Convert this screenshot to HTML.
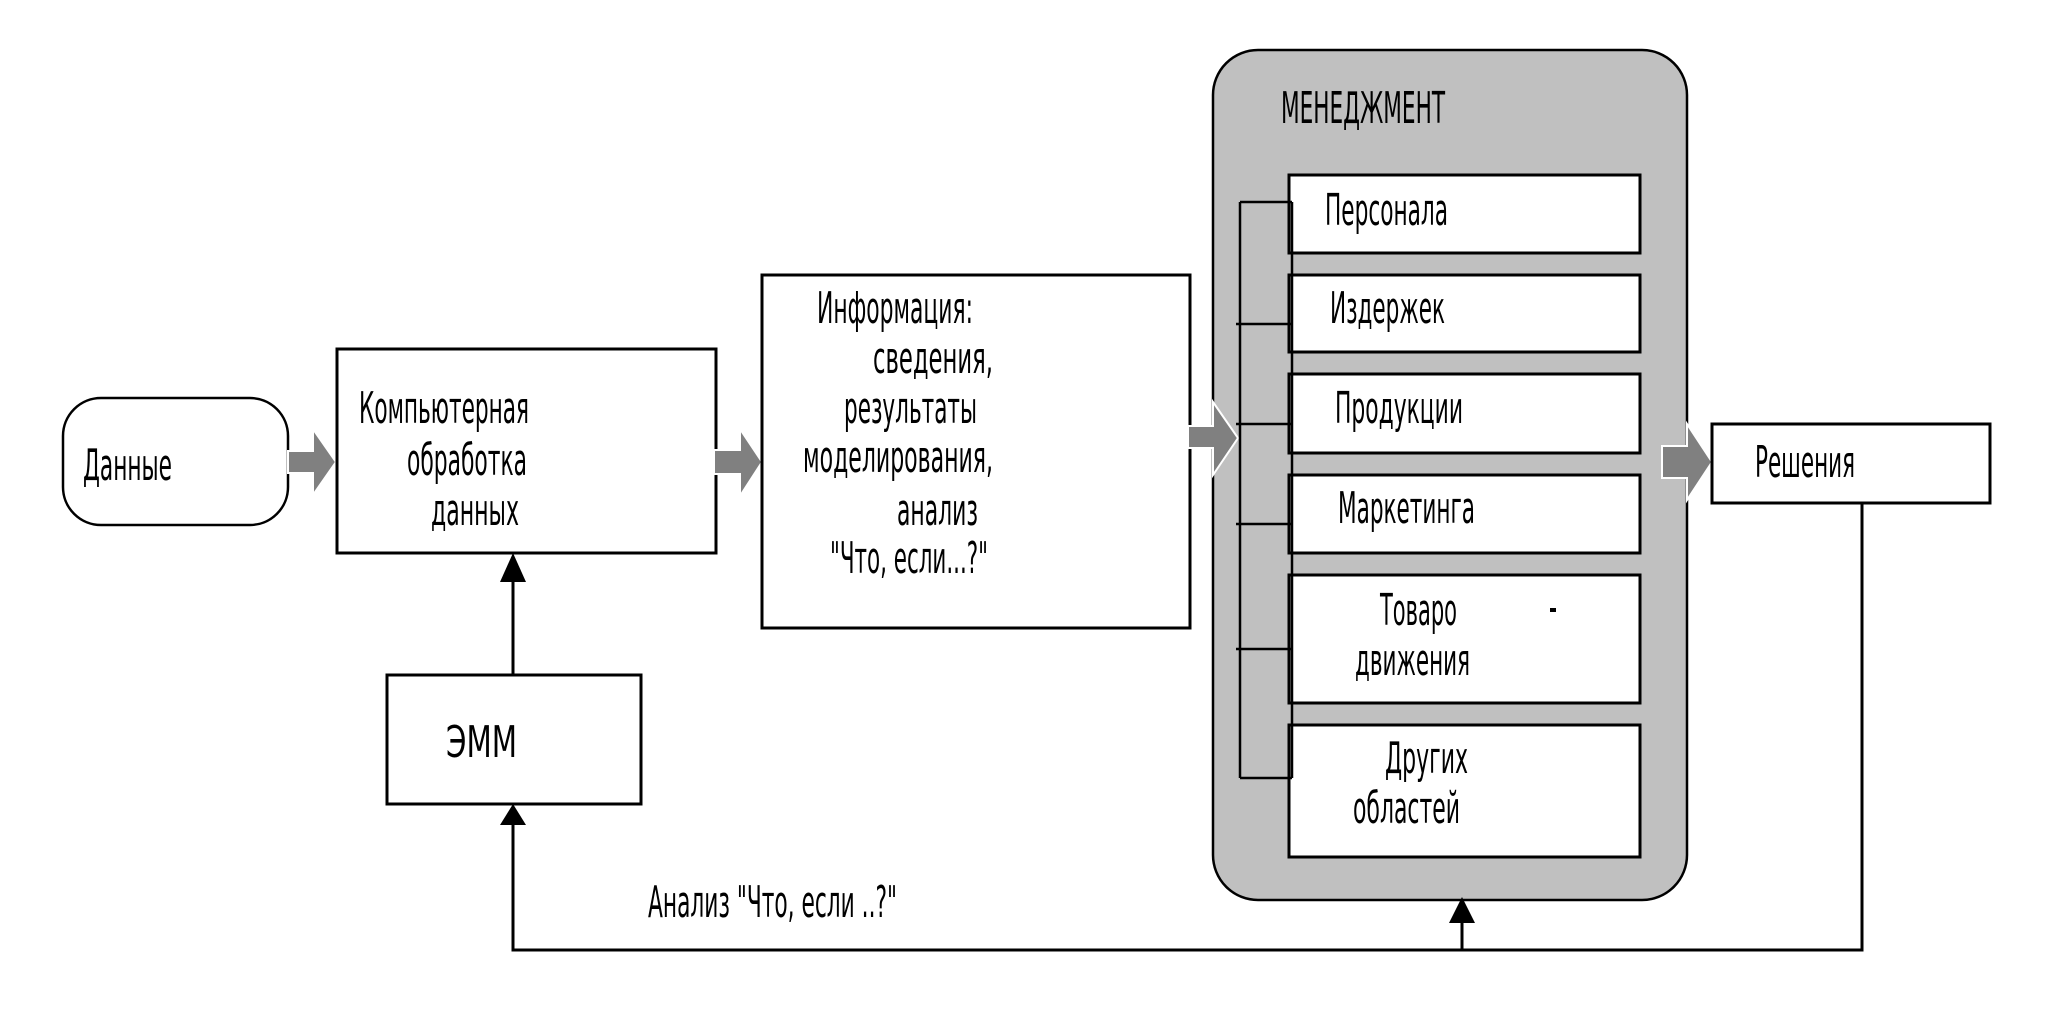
<!DOCTYPE html>
<html><head><meta charset="utf-8"><style>
html,body{margin:0;padding:0;background:#fff;}
svg{display:block;}
text{font-family:"DejaVu Sans Condensed","DejaVu Sans","Liberation Sans",sans-serif;font-size:44px;fill:#000;}
</style></head><body>
<svg width="2048" height="1014" viewBox="0 0 2048 1014" xmlns="http://www.w3.org/2000/svg">
<rect width="2048" height="1014" fill="#fff"/>
<!-- Данные -->
<rect x="63" y="398" width="225" height="127" rx="38" ry="38" fill="#fff" stroke="#000" stroke-width="2.5"/>
<text x="83" y="480" textLength="89" lengthAdjust="spacingAndGlyphs">Данные</text>
<!-- arrow1 -->
<polygon points="288,451 313,451 313,429 336,462 313,495 313,473 288,473" fill="#808080" stroke="#fff" stroke-width="2"/>
<!-- Комп box -->
<rect x="337" y="349" width="379" height="204" fill="#fff" stroke="#000" stroke-width="3"/>
<text x="359" y="423" textLength="170" lengthAdjust="spacingAndGlyphs">Компьютерная</text>
<text x="407" y="475" textLength="120" lengthAdjust="spacingAndGlyphs">обработка</text>
<text x="431" y="525" textLength="88" lengthAdjust="spacingAndGlyphs">данных</text>
<!-- arrow2 -->
<polygon points="714,450 740,450 740,429 762,462 740,496 740,474 714,474" fill="#808080" stroke="#fff" stroke-width="2"/>
<!-- Info box -->
<rect x="762" y="275" width="428" height="353" fill="#fff" stroke="#000" stroke-width="3"/>
<text x="817" y="323" textLength="156" lengthAdjust="spacingAndGlyphs">Информация:</text>
<text x="873" y="373" textLength="120" lengthAdjust="spacingAndGlyphs">сведения,</text>
<text x="844" y="423" textLength="133" lengthAdjust="spacingAndGlyphs">результаты</text>
<text x="803" y="472" textLength="190" lengthAdjust="spacingAndGlyphs">моделирования,</text>
<text x="897" y="525" textLength="81" lengthAdjust="spacingAndGlyphs">анализ</text>
<text x="830" y="573" textLength="158" lengthAdjust="spacingAndGlyphs">"Что, если...?"</text>
<!-- Management -->
<rect x="1213" y="50" width="474" height="850" rx="45" ry="45" fill="#c0c0c0" stroke="#000" stroke-width="2.5"/>
<!-- arrow3 -->
<polygon points="1188,426 1213,426 1213,402 1238,438 1213,475 1213,448 1188,448" fill="#808080" stroke="#fff" stroke-width="2"/>
<text x="1281" y="123" textLength="164" lengthAdjust="spacingAndGlyphs">МЕНЕДЖМЕНТ</text>
<g fill="#fff" stroke="#000" stroke-width="3">
<rect x="1289" y="175" width="351" height="78"/>
<rect x="1289" y="275" width="351" height="77"/>
<rect x="1289" y="374" width="351" height="79"/>
<rect x="1289" y="475" width="351" height="78"/>
<rect x="1289" y="575" width="351" height="128"/>
<rect x="1289" y="725" width="351" height="132"/>
</g>
<g stroke="#000" stroke-width="2.5" fill="none">
<line x1="1240" y1="202" x2="1240" y2="778"/>
<line x1="1292" y1="202" x2="1292" y2="778"/>
<line x1="1240" y1="202" x2="1292" y2="202"/>
<line x1="1236" y1="324" x2="1292" y2="324"/>
<line x1="1236" y1="424" x2="1292" y2="424"/>
<line x1="1236" y1="524" x2="1292" y2="524"/>
<line x1="1236" y1="649" x2="1292" y2="649"/>
<line x1="1240" y1="778" x2="1292" y2="778"/>
</g>
<text x="1325" y="225" textLength="123" lengthAdjust="spacingAndGlyphs">Персонала</text>
<text x="1330" y="323" textLength="115" lengthAdjust="spacingAndGlyphs">Издержек</text>
<text x="1335" y="423" textLength="128" lengthAdjust="spacingAndGlyphs">Продукции</text>
<text x="1338" y="523" textLength="137" lengthAdjust="spacingAndGlyphs">Маркетинга</text>
<text x="1380" y="625" textLength="77" lengthAdjust="spacingAndGlyphs">Товаро</text>
<rect x="1550" y="608" width="6" height="4" fill="#000"/>
<text x="1355" y="675" textLength="115" lengthAdjust="spacingAndGlyphs">движения</text>
<text x="1385" y="773" textLength="83" lengthAdjust="spacingAndGlyphs">Других</text>
<text x="1353" y="823" textLength="107" lengthAdjust="spacingAndGlyphs">областей</text>
<!-- arrow4 -->
<polygon points="1662,446 1687,446 1687,424 1712,462 1687,500 1687,478 1662,478" fill="#808080" stroke="#fff" stroke-width="2"/>
<!-- Решения -->
<rect x="1712" y="424" width="278" height="79" fill="#fff" stroke="#000" stroke-width="3"/>
<text x="1755" y="477" textLength="100" lengthAdjust="spacingAndGlyphs">Решения</text>
<!-- ЭММ -->
<rect x="387" y="675" width="254" height="129" fill="#fff" stroke="#000" stroke-width="3"/>
<text x="446" y="757" textLength="71" lengthAdjust="spacingAndGlyphs">ЭММ</text>
<!-- connectors -->
<g stroke="#000" stroke-width="3" fill="none">
<line x1="513" y1="675" x2="513" y2="575"/>
<polyline points="1862,503 1862,950 513,950 513,820"/>
<line x1="1462" y1="950" x2="1462" y2="915"/>
</g>
<polygon points="513,553 500,582 526,582" fill="#000"/>
<polygon points="513,804 500,825 526,825" fill="#000"/>
<polygon points="1462,897 1449,923 1475,923" fill="#000"/>
<text x="648" y="917" textLength="249" lengthAdjust="spacingAndGlyphs">Анализ "Что, если ..?"</text>
</svg>
</body></html>
